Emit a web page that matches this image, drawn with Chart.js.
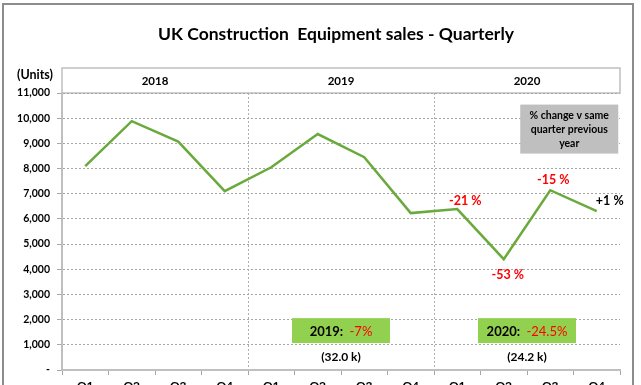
<!DOCTYPE html>
<html>
<head>
<meta charset="utf-8">
<script src="https://cdn.jsdelivr.net/npm/chart.js@4/dist/chart.umd.min.js"></script>
<style>
  html, body { margin: 0; padding: 0; background: #fff; }
  #wrap { position: relative; width: 641px; height: 385px; overflow: hidden; }
  #frame { position: absolute; left: 2px; top: 3px; width: 632px; height: 400px; border: 2px solid #8c8c8c; box-sizing: border-box; pointer-events: none; }
  canvas { position: absolute; left: 0; top: 0; }
</style>
</head>
<body>
<div id="wrap">
  <canvas id="chart" width="641" height="400"></canvas>
  <div id="frame"></div>
</div>
<script>
const years = ['2018', '2019', '2020'];
const quarters = ['Q1', 'Q2', 'Q3', 'Q4'];
const labels = years.flatMap(() => quarters);

// quarterly units
const units = [8100, 9880, 9070, 7100, 8050, 9370, 8450, 6230, 6390, 4400, 7140, 6310];

// % change v same quarter previous year (2020 only)
const pctLabels = [null, null, null, null, null, null, null, null, '-21 %', '-53 %', '-15 %', '+1 %'];
const pctColors = [null, null, null, null, null, null, null, null, '#ff0000', '#ff0000', '#ff0000', '#000000'];

// yearly summary boxes
const totalYears = ['2019', '2020'];
const totalChange = ['-7%', '-24.5%'];
const totalUnits = ['(32.0 k)', '(24.2 k)'];

const FONT = 'Lato, "Open Sans", sans-serif';
const lineGreen = '#6aaa3c';

const overlay = {
  id: 'overlay',
  beforeDraw(chart) {
    const { ctx, chartArea } = chart;
    const x = chart.scales.x;
    ctx.save();
    // title
    ctx.fillStyle = '#000';
    ctx.font = 'bold 17.5px ' + FONT;
    ctx.textAlign = 'center';
    ctx.textBaseline = 'middle';
    ctx.fillText('UK Construction  Equipment sales - Quarterly', 336, 34);

    // year header strip
    const top = chartArea.top - 25;
    ctx.strokeStyle = '#bfbfbf';
    ctx.lineWidth = 1.5;
    ctx.strokeRect(chartArea.left, top, chartArea.right - chartArea.left, 25);
    ctx.font = 'bold 11.5px ' + FONT;
    years.forEach((yr, i) => {
      const cx = (x.getPixelForValue(i * 4 + 1) + x.getPixelForValue(i * 4 + 2)) / 2;
      ctx.fillText(yr, cx, top + 13);
    });

    // units label
    ctx.font = 'bold 12.5px ' + FONT;
    ctx.fillText('(Units)', 35, 75);
    ctx.restore();
  },
  afterDatasetsDraw(chart) {
    const { ctx } = chart;
    const x = chart.scales.x;
    const y = chart.scales.y;
    const meta = chart.getDatasetMeta(0);
    ctx.save();
    ctx.textAlign = 'center';
    ctx.textBaseline = 'middle';

    // % change labels next to points
    ctx.font = 'bold 12.5px ' + FONT;
    const offs = { 8: [8, -8], 9: [4, 16], 10: [3, -10], 11: [13, -10] };
    pctLabels.forEach((t, i) => {
      if (!t) return;
      const p = meta.data[i];
      ctx.fillStyle = pctColors[i];
      ctx.fillText(t, p.x + offs[i][0], p.y + offs[i][1]);
    });

    // grey note box
    const bx = x.getPixelForValue(10) - 30;
    const by = y.getPixelForValue(10540);
    ctx.fillStyle = '#bfbfbf';
    ctx.fillRect(bx, by, 98, 49);
    ctx.fillStyle = '#000';
    ctx.font = 'bold 10.5px ' + FONT;
    const note = ['% change v same', 'quarter previous', 'year'];
    note.forEach((l, i) => ctx.fillText(l, bx + 49, by + 11 + i * 14));

    // yearly summary boxes
    totalYears.forEach((yr, k) => {
      const g = k + 1;
      const cx = (x.getPixelForValue(g * 4 + 1) + x.getPixelForValue(g * 4 + 2)) / 2;
      const top = y.getPixelForValue(2060);
      const bot = y.getPixelForValue(1070);
      ctx.fillStyle = '#92d050';
      ctx.fillRect(cx - 49, top, 98, bot - top);
      ctx.font = 'bold 13px ' + FONT;
      const a = yr + ':  ';
      const b = totalChange[k];
      const wa = ctx.measureText(a).width;
      ctx.font = '13px ' + FONT;
      const wb = ctx.measureText(b).width;
      const sx = cx - (wa + wb) / 2;
      ctx.textAlign = 'left';
      ctx.fillStyle = '#000';
      ctx.font = 'bold 13px ' + FONT;
      ctx.fillText(a, sx, (top + bot) / 2 + 1);
      ctx.fillStyle = '#ff0000';
      ctx.font = '13px ' + FONT;
      ctx.fillText(b, sx + wa, (top + bot) / 2 + 1);
      ctx.textAlign = 'center';
      ctx.fillStyle = '#000';
      ctx.font = 'bold 12px ' + FONT;
      ctx.fillText(totalUnits[k], cx, y.getPixelForValue(520));
    });
    ctx.restore();
  }
};

new Chart(document.getElementById('chart'), {
  type: 'line',
  data: {
    labels: labels,
    datasets: [{
      label: 'Units',
      data: units,
      borderColor: lineGreen,
      borderWidth: 2.5,
      pointRadius: 0,
      tension: 0,
      fill: false
    }]
  },
  options: {
    responsive: false,
    animation: false,
    layout: { padding: { top: 93, right: 21, left: 0, bottom: 0 } },
    plugins: { legend: { display: false }, tooltip: { enabled: false } },
    scales: {
      x: {
        offset: true,
        afterFit: s => { s.height = 30; },
        grid: {
          offset: true,
          color: c => (c.index === 4 || c.index === 8) ? '#b0b0b0' : 'rgba(0,0,0,0)',
          tickColor: '#a6a6a6',
          tickLength: 5,
          lineWidth: 1
        },
        border: { color: '#bfbfbf', width: 2, dash: [2, 2] },
        ticks: {
          color: '#000',
          font: { family: FONT, size: 12, weight: 'bold' },
          padding: 4,
          maxRotation: 0,
          autoSkip: false
        }
      },
      y: {
        min: 0,
        max: 11000,
        afterFit: s => { s.width = 62; },
        grid: { color: '#a6a6a6', tickColor: '#a6a6a6', tickLength: 5, lineWidth: 1 },
        border: { color: '#bfbfbf', width: 2, dash: [2, 2] },
        ticks: {
          stepSize: 1000,
          color: '#000',
          padding: 7,
          font: { family: FONT, size: 10.5, weight: 'bold' },
          callback: v => v === 0 ? '-' : v.toLocaleString('en-US')
        }
      }
    }
  },
  plugins: [overlay]
});
</script>
</body>
</html>
